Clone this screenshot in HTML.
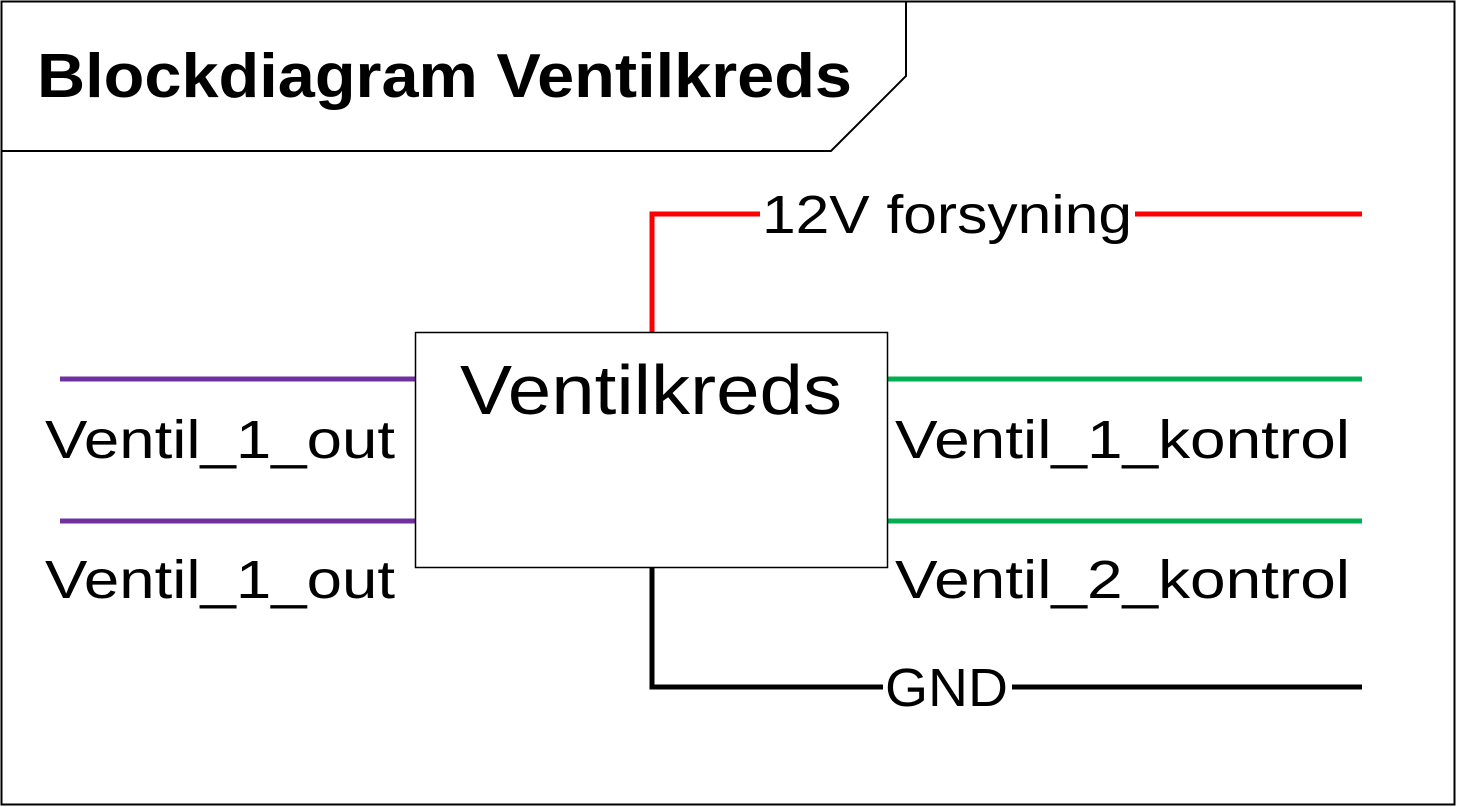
<!DOCTYPE html>
<html><head><meta charset="utf-8"><style>html,body{margin:0;padding:0;background:#fff}svg{display:block}</style></head>
<body>
<svg width="1457" height="807" viewBox="0 0 1457 807" xmlns="http://www.w3.org/2000/svg" font-family="Liberation Sans, sans-serif">
<rect x="1.5" y="1.5" width="1453" height="803" fill="#fff" stroke="#000" stroke-width="2"/>
<polygon points="1.5,1.5 906,1.5 906,76 831,151 1.5,151" fill="#fff" stroke="#000" stroke-width="2"/>
<text x="37" y="97" font-size="62" font-weight="bold" textLength="815" lengthAdjust="spacingAndGlyphs">Blockdiagram Ventilkreds</text>
<g stroke-width="5" fill="none">
<polyline points="652,332 652,214 760,214" stroke="#ff0000"/>
<line x1="1135" y1="214" x2="1362" y2="214" stroke="#ff0000"/>
<line x1="60" y1="379" x2="415" y2="379" stroke="#7030a0"/>
<line x1="60" y1="521" x2="415" y2="521" stroke="#7030a0"/>
<line x1="888" y1="379" x2="1362" y2="379" stroke="#00b050"/>
<line x1="888" y1="521" x2="1362" y2="521" stroke="#00b050"/>
<polyline points="652,568 652,687 883,687" stroke="#000"/>
<line x1="1012" y1="687" x2="1362" y2="687" stroke="#000"/>
</g>
<rect x="415.5" y="332.5" width="472" height="235" fill="#fff" stroke="#000" stroke-width="1.5"/>
<text x="460" y="414" font-size="70" textLength="382" lengthAdjust="spacingAndGlyphs">Ventilkreds</text>
<g font-size="54">
<text x="762" y="233" textLength="370" lengthAdjust="spacingAndGlyphs">12V forsyning</text>
<text x="45" y="458" textLength="350" lengthAdjust="spacingAndGlyphs">Ventil_1_out</text>
<text x="45" y="598" textLength="350" lengthAdjust="spacingAndGlyphs">Ventil_1_out</text>
<text x="895" y="458" textLength="455" lengthAdjust="spacingAndGlyphs">Ventil_1_kontrol</text>
<text x="895" y="598" textLength="455" lengthAdjust="spacingAndGlyphs">Ventil_2_kontrol</text>
<text x="885" y="706" textLength="123" lengthAdjust="spacingAndGlyphs">GND</text>
</g>
</svg>
</body></html>
